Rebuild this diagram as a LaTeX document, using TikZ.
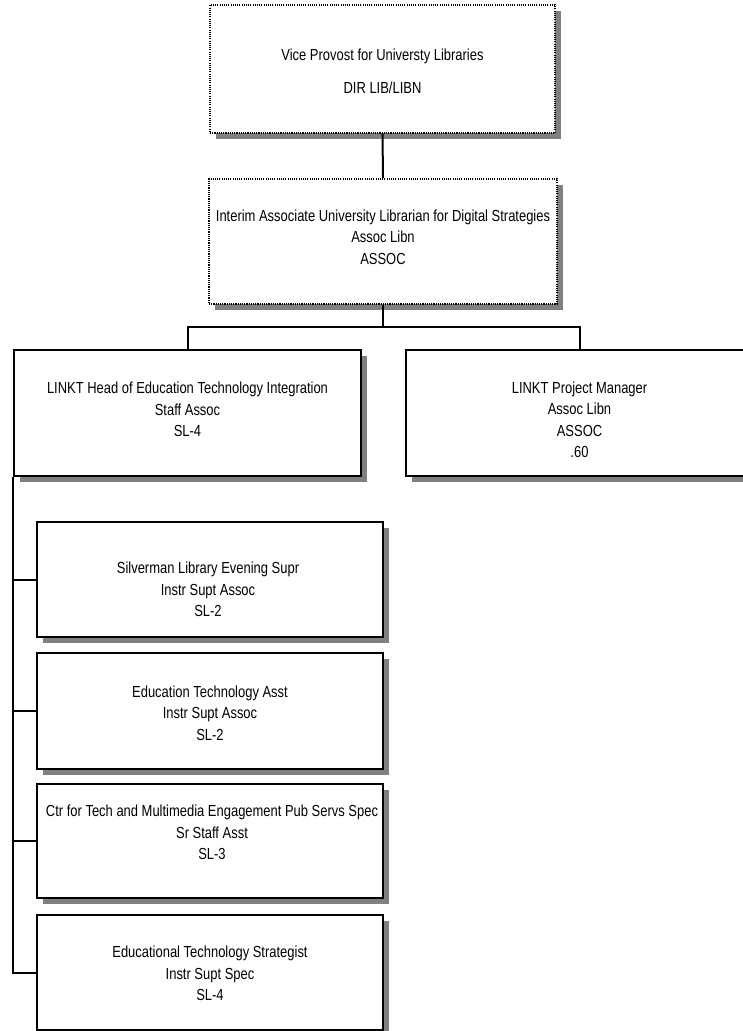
\documentclass[tikz,border=0pt]{standalone}
\usepackage{fontspec}
\setmainfont[FakeStretch=0.81]{Liberation Sans}
\usetikzlibrary{shadows}
\begin{document}
\begin{tikzpicture}[x=1pt,y=-1pt,
  boxbase/.style={draw=black,fill=white,inner sep=0pt,
    drop shadow={shadow xshift=6pt,shadow yshift=-6pt,fill=black!50,opacity=1}},
  solidbox/.style={boxbase,line width=2pt},
  dotbox/.style={boxbase,line width=1.5pt,dash pattern=on 1.1pt off 1.1pt},
  txt/.style={align=center,inner sep=0pt,font=\fontsize{16}{21.5}\selectfont},
  link/.style={draw=black,line width=2pt}]
\clip (0,0) rectangle (743,1031);
\fill[white] (0,0) rectangle (743,1031);
% boxes
\node[dotbox,minimum width=345pt,minimum height=128pt] (top) at (382.5,69) {};
\node[dotbox,minimum width=348pt,minimum height=125pt] (mid) at (383,241.5) {};
\node[solidbox,minimum width=347pt,minimum height=126pt] (left) at (187.5,413) {};
\node[solidbox,minimum width=347pt,minimum height=126pt] (right) at (579.5,413) {};
\node[solidbox,minimum width=346pt,minimum height=115pt] (c1) at (210,579.5) {};
\node[solidbox,minimum width=346pt,minimum height=116pt] (c2) at (210,711) {};
\node[solidbox,minimum width=346pt,minimum height=114pt] (c3) at (210,841) {};
\node[solidbox,minimum width=346pt,minimum height=115pt] (c4) at (210,972.5) {};
% texts
\node[txt] (ttop) at (382.5,71.5) {Vice Provost for Universty Libraries\\[11.5pt]DIR LIB/LIBN};
\node[txt] (tmid) at (383,237) {Interim Associate University Librarian for Digital Strategies\\Assoc Libn\\ASSOC};
\node[txt] (tleft) at (187.5,409.5) {LINKT Head of Education Technology Integration\\Staff Assoc\\SL-4};
\node[txt] (tright) at (579.5,420) {LINKT Project Manager\\Assoc Libn\\ASSOC\\.60};
\node[txt] (tc1) at (208,589.5) {Silverman Library Evening Supr\\Instr Supt Assoc\\SL-2};
\node[txt] (tc2) at (210,713) {Education Technology Asst\\Instr Supt Assoc\\SL-2};
\node[txt] (tc3) at (212,832.5) {Ctr for Tech and Multimedia Engagement Pub Servs Spec\\Sr Staff Asst\\SL-3};
\node[txt] (tc4) at (210,973.5) {Educational Technology Strategist\\Instr Supt Spec\\SL-4};
% connectors
\coordinate (bus) at (0,327);
\draw[link] (top.south) -- (mid.north);
\draw[link] (mid.south) -- (mid.south |- bus);
\draw[link] (left.north) -- (left.north |- bus) -- (right.north |- bus) -- (right.north);
\draw[link] (left.south west) |- (c4.west);
\draw[link] (left.south west |- c1.west) -- (c1.west);
\draw[link] (left.south west |- c2.west) -- (c2.west);
\draw[link] (left.south west |- c3.west) -- (c3.west);
\end{tikzpicture}
\end{document}
